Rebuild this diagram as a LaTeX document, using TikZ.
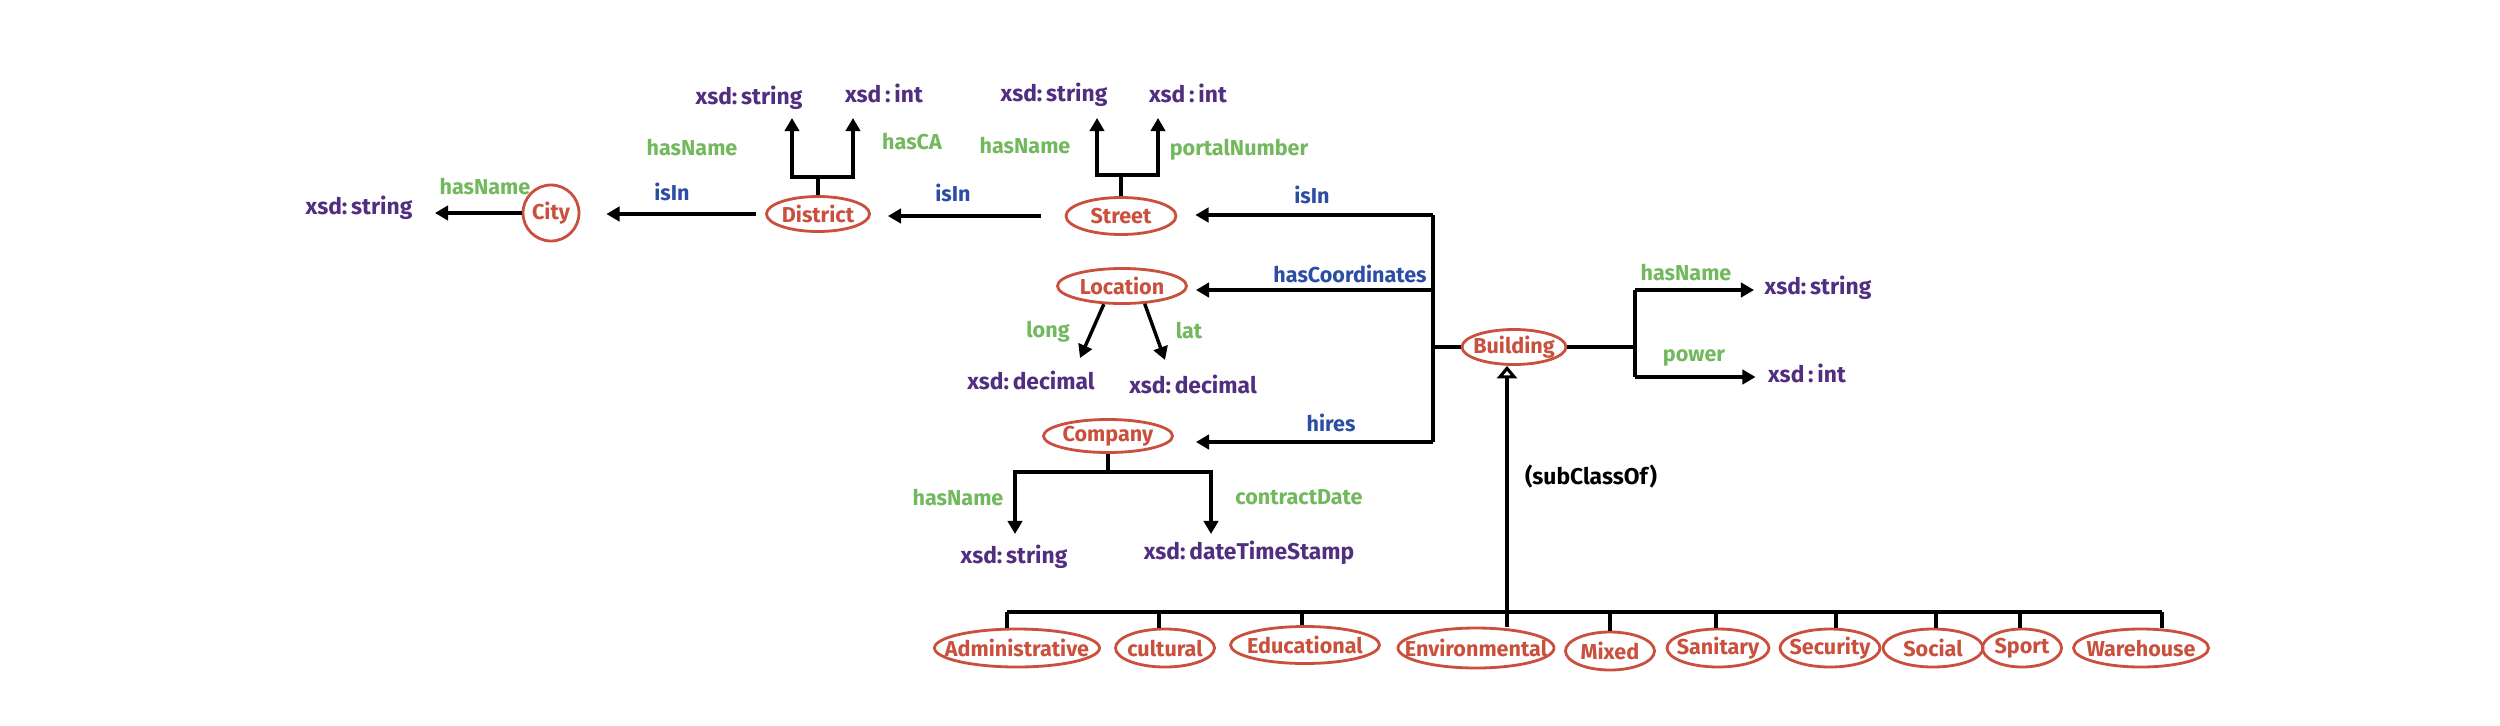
\documentclass[tikz,border=0pt]{standalone}
\usepackage{fontspec}
\setmainfont{Fira Sans}
\usetikzlibrary{shapes.geometric,arrows.meta}
\definecolor{nodered}{RGB}{201,80,60}
\definecolor{xsdpurple}{RGB}{82,46,128}
\definecolor{propgreen}{RGB}{114,184,92}
\definecolor{relblue}{RGB}{43,77,163}
\newcommand{\zbox}[1]{\makebox[0pt]{#1}}
\begin{document}
\begin{tikzpicture}[x=0.32pt,y=-0.32pt,
  sz/.style 2 args={minimum width={#1*0.32pt}, minimum height={#2*0.32pt}},
  cls/.style={ellipse, draw=nodered, line width=0.9pt, text=nodered, inner sep=0pt,
    font=\bfseries\fontsize{6.9}{8}\selectfont},
  dtype/.style={text=xsdpurple, inner sep=0pt, font=\bfseries\fontsize{7.3}{9}\selectfont},
  dprop/.style={text=propgreen, inner sep=0pt, font=\bfseries\fontsize{6.9}{9}\selectfont},
  oprop/.style={text=relblue, inner sep=0pt, font=\bfseries\fontsize{6.9}{9}\selectfont},
  note/.style={text=black, inner sep=0pt, font=\bfseries\fontsize{7.3}{9}\selectfont},
  conn/.style={line width=1.1pt, black},
  arr/.style={conn, -{Triangle[length=4.2pt,width=4.6pt]}},
  subarr/.style={conn, -{Triangle[open,length=4pt,width=6.4pt,fill=white]}},
  gapend/.style={shorten >={#1*0.32pt}},
  gapstart/.style={shorten <={#1*0.32pt}}]
\fill[white] (0,0) rectangle (2500,725);
\useasboundingbox (0,0) rectangle (2500,725);

% ---- classes
\node[cls, circle, sz={56}{56}] (city) at (551,213) {\zbox{City}};
\node[cls, sz={103}{35}] (district) at (818,214) {\zbox{District}};
\node[cls, sz={110}{37}] (street) at (1121,216) {\zbox{Street}};
\node[cls, sz={129}{35}] (location) at (1122,286) {\zbox{Location}};
\node[cls, sz={129}{33}] (company) at (1108,436) {\zbox{Company}};
\node[cls, sz={104}{35}] (building) at (1514,347) {\zbox{Building}};

% ---- datatypes
\node[dtype] (xcity) at (359,208) {xsd:\,string};
\node[dtype] (xds) at (749,98) {xsd:\,string};
\node[dtype] (xdi) at (884,93) {xsd\,:\,int};
\node[dtype] (xss) at (1054,95) {xsd:\,string};
\node[dtype] (xsi) at (1188,93) {xsd\,:\,int};
\node[dtype] (xdec1) at (1031,380) {xsd:\,decimal};
\node[dtype] (xdec2) at (1193,384) {xsd:\,decimal};
\node[dtype] (xcs) at (1014,557) {xsd:\,string};
\node[dtype] (xcd) at (1249,553) {xsd:\,dateTimeStamp};
\node[dtype] (xbs) at (1818,288) {xsd:\,string};
\node[dtype] (xbi) at (1807,373) {xsd\,:\,int};

% ---- property labels
\node[dprop] (lcityname) at (485,187) {hasName};
\node[oprop] (lisin1) at (672,192) {isIn};
\node[dprop] (ldname) at (692,148) {hasName};
\node[dprop] (ldca) at (912,142) {hasCA};
\node[oprop] (lisin2) at (953,193) {isIn};
\node[dprop] (lsname) at (1025,146) {hasName};
\node[dprop] (lsport) at (1239,150) {portalNumber};
\node[oprop] (lisin3) at (1312,195) {isIn};
\node[oprop] (lcoord) at (1350,274) {hasCoordinates};
\node[dprop] (llong) at (1048,332) {long};
\node[dprop] (llat) at (1189,330) {lat};
\node[oprop] (lhires) at (1331,423) {hires};
\node[dprop] (lcname) at (958,498) {hasName};
\node[dprop] (lcdate) at (1299,497) {contractDate};
\node[dprop] (lbname) at (1686,273) {hasName};
\node[dprop] (lbpower) at (1694,358) {power};
\node[note] (lsub) at (1591,477) {(subClassOf)};

% ---- City / District / Street chain
\draw[arr, gapend=22] (city.west) -- (city.west -| xcity.east);
\draw[arr, gapstart=9, gapend=26] (district.west) -- (district.west -| city.east);
\draw[arr, gapstart=24, gapend=17] (street.west) -- (street.west -| district.east);

% District fork
\coordinate (dfork) at (818,177);
\coordinate (dtipL) at (792,118);
\coordinate (dtipR) at (853,118);
\draw[conn] (district.north) -- (dfork);
\draw[arr] (dfork) -| (dtipL);
\draw[arr] (dfork) -| (dtipR);

% Street fork
\coordinate (sfork) at (1121,175);
\coordinate (stipL) at (1097,118);
\coordinate (stipR) at (1158,118);
\draw[conn] (street.north) -- (sfork);
\draw[arr] (sfork) -| (stipL);
\draw[arr] (sfork) -| (stipR);

% ---- Building trunk
\coordinate (tstreet) at (1433,215);
\coordinate (tloc) at (1433,290);
\coordinate (tbld) at (1433,347);
\coordinate (tcomp) at (1433,442);
\draw[conn] (tstreet) -- (tcomp);
\draw[arr, gapend=18] (tstreet) -- (tstreet -| street.east);
\draw[arr, gapend=8] (tloc) -- (tloc -| location.east);
\draw[arr, gapend=22] (tcomp) -- (tcomp -| company.east);
\draw[conn] (tbld) -- (tbld -| building.west);

% Location properties
\coordinate (longtip) at (1080,358);
\coordinate (lattip) at (1165,360);
\draw[arr] (location.225) -- (longtip);
\draw[arr] (location.322) -- (lattip);

% Company fork
\coordinate (cfork) at (1108,472);
\coordinate (ctipL) at (1015,534);
\coordinate (ctipR) at (1211,534);
\draw[conn] (company.south) -- (cfork);
\draw[arr] (cfork) -| (ctipL);
\draw[arr] (cfork) -| (ctipR);

% Building data properties
\coordinate (bfork) at (1635,347);
\coordinate (btop) at (1635,290);
\coordinate (bbot) at (1635,377);
\draw[conn] (building.east) -- (bfork);
\draw[conn] (btop) -- (bbot);
\draw[arr, gapend=10] (btop) -- (btop -| xbs.west);
\draw[arr, gapend=12] (bbot) -- (bbot -| xbi.west);

% ---- subclasses
\node[cls, sz={165}{38}] (admin) at (1017,648) {\zbox{Administrative}};
\node[cls, sz={99}{38}] (cult) at (1165,648) {\zbox{cultural}};
\node[cls, sz={149}{37}] (educ) at (1305,645) {\zbox{Educational}};
\node[cls, sz={156}{40}] (envi) at (1476,648) {\zbox{Environmental}};
\node[cls, sz={89}{38}] (mixed) at (1610,651) {\zbox{Mixed}};
\node[cls, sz={102}{38}] (sani) at (1718,648) {\zbox{Sanitary}};
\node[cls, sz={100}{38}] (secu) at (1830,648) {\zbox{Security}};
\node[cls, sz={100}{38}] (soci) at (1933,648) {\zbox{Social}};
\node[cls, sz={79}{38}] (sport) at (2022,648) {\zbox{Sport}};
\node[cls, sz={135}{38}] (ware) at (2141,648) {\zbox{Warehouse}};

\foreach \n/\x in {admin/1007, cult/1159, educ/1302, envi/1507, mixed/1610,
                   sani/1716, secu/1836, soci/1936, sport/2020, ware/2162}{
  \coordinate (t\n) at (\x,612);
  \draw[conn] (t\n) -- (t\n |- \n.north);
}
\draw[conn] (tadmin) -- (tware);
\draw[subarr] (tenvi) -- (tenvi |- building.south);
\end{tikzpicture}
\end{document}
